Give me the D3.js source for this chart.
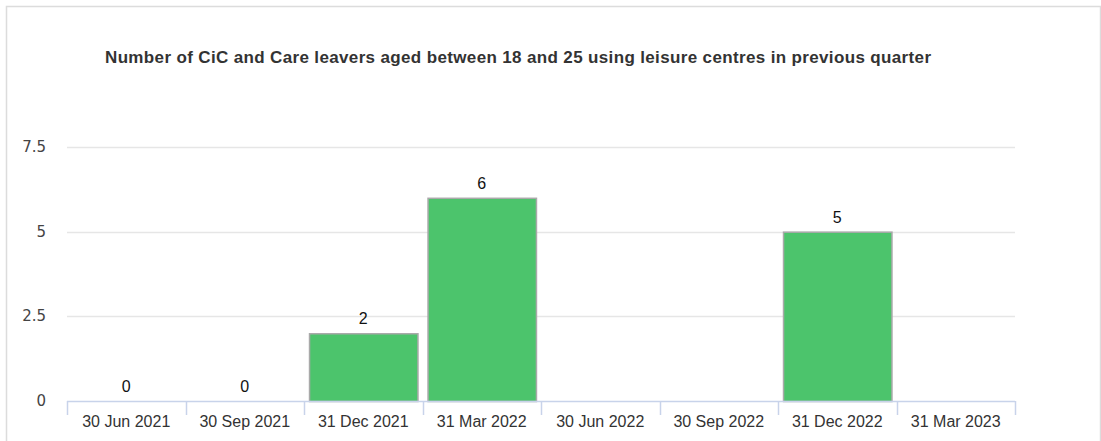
<!DOCTYPE html>
<html><head><meta charset="utf-8">
<script src="https://cdn.jsdelivr.net/npm/d3@7"></script>
<style>body{margin:0;background:#fff;} svg{display:block;}</style>
</head><body>
<svg id="c" width="1101" height="441"></svg>
<script>
const title = "Number of CiC and Care leavers aged between 18 and 25 using leisure centres in previous quarter";
const categories = ["30 Jun 2021","30 Sep 2021","31 Dec 2021","31 Mar 2022","30 Jun 2022","30 Sep 2022","31 Dec 2022","31 Mar 2023"];
const values = [0, 0, 2, 6, null, null, 5, null];
const yTicks = [0, 2.5, 5, 7.5];

const svg = d3.select("#c");
const x0 = 67, x1 = 1015, yBase = 401, yTop = 147;

svg.append("rect").attr("x",6.5).attr("y",6.5).attr("width",1094).attr("height",440)
  .attr("fill","none").attr("stroke","#dcdcdc").attr("stroke-width",1.5);

const xCat = d3.scaleBand().domain(categories).range([x0, x1]).padding(0);
const xBar = d3.scaleBand().domain(categories).range([x0, x1]).paddingInner(0.085).paddingOuter(0.0425);
const y = d3.scaleLinear().domain([0, 7.5]).range([yBase, yTop]);

// gridlines
svg.append("g").selectAll("line").data(yTicks.filter(d=>d>0)).join("line")
  .attr("x1", x0).attr("x2", x1)
  .attr("y1", d=>Math.round(y(d))+0.5).attr("y2", d=>Math.round(y(d))+0.5)
  .attr("stroke","#e6e6e6").attr("stroke-width",1.5);

// y labels
svg.append("g").selectAll("text").data(yTicks).join("text")
  .attr("x", 46).attr("y", d=>y(d)+5)
  .attr("text-anchor","end")
  .style("font-family","'DejaVu Sans', sans-serif").style("font-size","15px").style("fill","#444")
  .text(d=>d3.format("")(d));

// bars
const data = categories.map((c,i)=>({c, v: values[i]}));
svg.append("g").selectAll("rect").data(data.filter(d=>d.v)).join("rect")
  .attr("x", d=>xBar(d.c)+0.5).attr("y", d=>y(d.v)+0.5)
  .attr("width", xBar.bandwidth()).attr("height", d=>yBase - y(d.v))
  .attr("fill","#4cc46c").attr("stroke","#a9a9a9").attr("stroke-width",1.5);

// value labels
svg.append("g").selectAll("text").data(data.filter(d=>d.v!==null)).join("text")
  .attr("x", d=>xBar(d.c)+xBar.bandwidth()/2).attr("y", d=>y(d.v)-9)
  .attr("text-anchor","middle")
  .style("font-family","'Liberation Sans', Arial, sans-serif").style("font-size","16px").style("fill","#111")
  .text(d=>d.v);

// x axis
const xAxis = svg.append("g").attr("transform",`translate(0,${yBase})`);
xAxis.append("line").attr("x1",x0).attr("x2",x1).attr("y1",0.5).attr("y2",0.5)
  .attr("stroke","#c8d3ea").attr("stroke-width",1.5);
const tickPos = categories.map(c=>xCat(c)).concat([x1]);
xAxis.selectAll("line.t").data(tickPos).join("line").attr("class","t")
  .attr("x1",d=>Math.round(d)+0.5).attr("x2",d=>Math.round(d)+0.5).attr("y1",0).attr("y2",14)
  .attr("stroke","#c8d3ea").attr("stroke-width",1.5);
xAxis.selectAll("text").data(categories).join("text")
  .attr("x", d=>xCat(d)+xCat.bandwidth()/2).attr("y", 26)
  .attr("text-anchor","middle")
  .style("font-family","'Liberation Sans', Arial, sans-serif").style("font-size","16px").style("fill","#333")
  .text(d=>d);

// title
svg.append("text").attr("x", 518).attr("y", 63).attr("text-anchor","middle")
  .attr("textLength", 826).attr("lengthAdjust","spacing")
  .style("font-family","'Liberation Sans', Arial, sans-serif").style("font-size","17px")
  .style("font-weight","bold").style("fill","#333").text(title);
</script>
</body></html>
